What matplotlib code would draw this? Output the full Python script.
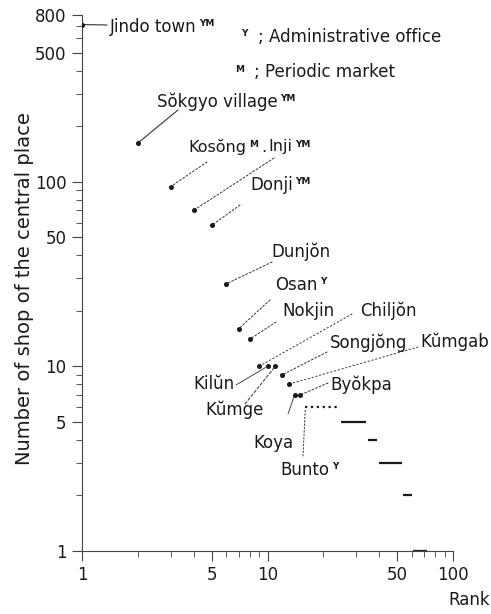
import matplotlib
matplotlib.use("Agg")
import matplotlib.pyplot as plt
from matplotlib.ticker import FixedLocator, NullFormatter, FixedFormatter

W, H = 491, 614

# ---- data ----
ranks = [1, 2, 3, 4, 5, 6, 7, 8, 9, 10, 11, 12, 13, 14, 15]
shops = [710, 162, 94, 70, 58, 28, 16, 14, 10, 10, 10, 9, 8, 7, 7]
names = ["Jindo town", "Sŏkgyo village", "Kosŏng", "Inji", "Donji", "Dunjŏn",
         "Osan", "Nokjin", "Chiljŏn", "Kilŭn", "Kŭmge", "Songjŏng", "Kŭmgab",
         "Koya", "Byŏkpa"]
tie_start = [16, 25, 35, 40, 54, 61]
tie_end = [24, 34, 39, 53, 60, 72]
tie_shops = [6, 5, 4, 3, 2, 1]
bunto_rank, bunto_shops = 16, 6

x_major = [1, 5, 10, 50, 100]
y_major = [1, 5, 10, 50, 100, 500, 800]
x_minor = [2, 3, 4, 6, 7, 8, 9, 20, 30, 40, 60, 70, 80, 90]
y_minor = [2, 3, 4, 6, 7, 8, 9, 20, 30, 40, 60, 70, 80, 90, 200, 300, 400, 600, 700]

ink = "#1a1a1a"
FS = 12
plt.rcParams["font.family"] = ["DejaVu Sans"]

fig = plt.figure(figsize=(W / 100, H / 100), dpi=100)
ax = fig.add_axes([82 / W, 63 / H, 371 / W, 536 / H])
ax.set_xscale("log")
ax.set_yscale("log")
ax.set_xlim(1, 100)
ax.set_ylim(1, 800)
for s in ["top", "right"]:
    ax.spines[s].set_visible(False)
for s in ["left", "bottom"]:
    ax.spines[s].set_linewidth(0.8)
    ax.spines[s].set_color("#444")

ax.xaxis.set_major_locator(FixedLocator(x_major))
ax.xaxis.set_major_formatter(FixedFormatter([str(v) for v in x_major]))
ax.xaxis.set_minor_locator(FixedLocator(x_minor))
ax.xaxis.set_minor_formatter(NullFormatter())
ax.yaxis.set_major_locator(FixedLocator(y_major))
ax.yaxis.set_major_formatter(FixedFormatter([str(v) for v in y_major]))
ax.yaxis.set_minor_locator(FixedLocator(y_minor))
ax.yaxis.set_minor_formatter(NullFormatter())
ax.tick_params(which="major", direction="out", length=7, width=0.8, color="#444",
               labelsize=FS, labelcolor=ink, pad=4)
ax.tick_params(which="minor", direction="out", length=4, width=0.7, color="#555")

# points
ax.plot(ranks, shops, "o", ms=2.6, color=ink, zorder=5)
# ties
for a, b, v in zip(tie_start, tie_end, tie_shops):
    ls = ":" if v == 6 else "-"
    ax.plot([a, b], [v, v], ls, color=ink, lw=1.6, solid_capstyle="butt")

def px(x, y):
    return (x, H - y)

def label(x, y, s, sup=None, fs=FS):
    t = fig.text(x / W, 1 - y / H, s, fontsize=fs, color=ink, ha="left", va="center")
    if sup:
        ax.annotate(sup, xy=(1.0, 0.95), xycoords=t, xytext=(2, 0),
                    textcoords="offset points", fontsize=6.5, color=ink,
                    ha="left", va="top", fontweight="bold")
    return t

def leader(rank, val, x, y, ls=(0, (2, 2)), lw=0.7):
    ax.annotate("", xy=(rank, val), xycoords="data", xytext=px(x, y),
                textcoords="figure pixels",
                arrowprops=dict(arrowstyle="-", linestyle=ls, lw=lw, color="#333",
                                shrinkA=0, shrinkB=1.5))

# labels (positions in figure pixels, top-left origin)
label(110, 27, "Jindo town", "YM")
label(157, 102, "Sŏkgyo village", "YM")
label(188, 147, "Kosŏng", "M", fs=11.5)
label(261, 147, ".", fs=11.5)
label(268, 147, "Inji", "YM", fs=11.5)
label(250, 185, "Donji", "YM")
label(271, 252, "Dunjŏn")
label(275, 285, "Osan", "Y")
label(282, 311, "Nokjin")
label(360, 311, "Chiljŏn")
label(330, 343, "Songjŏng")
label(420, 342, "Kŭmgab")
label(193, 384, "Kilŭn")
label(330, 385, "Byŏkpa")
label(205, 410, "Kŭmge")
label(253, 443, "Koya")
label(280, 470, "Bunto", "Y")
label(258, 37, "; Administrative office")
label(254, 72, "; Periodic market")
fig.text(244 / W, 1 - 34 / H, "Y", fontsize=6.5, color=ink, ha="center", va="center", fontweight="bold")
fig.text(240 / W, 1 - 70 / H, "M", fontsize=6.5, color=ink, ha="center", va="center", fontweight="bold")

# leaders
leader(ranks[0], shops[0], 107, 25, ls="-", lw=0.8)
leader(ranks[1], shops[1], 178, 110, ls="-", lw=0.8)
leader(ranks[2], shops[2], 207, 162)
leader(ranks[3], shops[3], 274, 158)
leader(ranks[4], shops[4], 240, 205)
leader(ranks[5], shops[5], 272, 262)
leader(ranks[6], shops[6], 270, 300)
leader(ranks[7], shops[7], 276, 322)
leader(ranks[8], shops[8], 352, 314, ls=(0, (1.5, 2.5)))
leader(ranks[11], shops[11], 327, 352)
leader(ranks[12], shops[12], 418, 347, ls=(0, (1.5, 2.5)))
leader(ranks[9], shops[9], 236, 385, ls="-", lw=0.6)
leader(ranks[10], shops[10], 245, 404, ls=(0, (3, 2)))
leader(ranks[14], shops[14], 328, 383)
leader(ranks[13], shops[13], 288, 414, ls="-", lw=0.6)
leader(bunto_rank, bunto_shops, 303, 456, ls=(0, (1.5, 2)))

fig.text(25 / W, 1 - 289 / H, "Number of shop of the central place", rotation=90,
         fontsize=14, color=ink, ha="center", va="center")
fig.text(490 / W, 1 - 600 / H, "Rank", fontsize=FS, color=ink, ha="right", va="center")

fig.savefig("out.png", dpi=100, facecolor="white")
